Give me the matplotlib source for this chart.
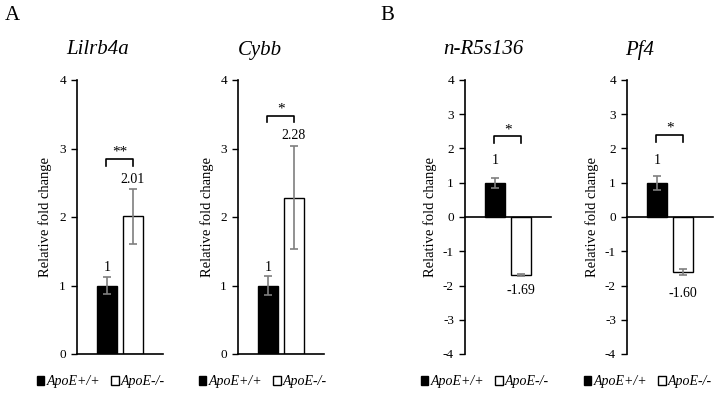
import matplotlib
matplotlib.use("Agg")
import matplotlib.pyplot as plt
import matplotlib.patches as mpatches

plt.rcParams["font.family"] = ["Liberation Serif", "DejaVu Serif"]
plt.rcParams["axes.unicode_minus"] = False

# Data
genes = ["Lilrb4a", "Cybb", "n-R5s136", "Pf4"]
groups = ["ApoE+/+", "ApoE-/-"]
wt_values = [1.0, 1.0, 1.0, 1.0]
wt_errors = [0.13, 0.14, 0.15, 0.20]
ko_values = [2.01, 2.28, -1.69, -1.60]
ko_errors = [0.40, 0.75, 0.02, 0.08]
wt_labels = ["1", "1", "1", "1"]
ko_labels = ["2.01", "2.28", "-1.69", "-1.60"]
significance = ["**", "*", "*", "*"]
y_ranges = [(0, 4), (0, 4), (-4, 4), (-4, 4)]

# Layout (pixels of the 715x393 canvas)
W, H = 715, 393
axes_left = [77, 238, 465, 627]
axes_w = 86
ax_top, ax_bot = 80, 354
title_x = [98, 260, 483, 640]
ylabel_x = [45, 207, 430, 592]
legend_x = [101, 263, 485, 648]
wt_label_y = [1.27, 1.27, 1.66, 1.66]
ko_label_y = [2.55, 3.19, -2.16, -2.22]
bracket_y = [2.85, 3.48, 2.36, 2.40]
bracket_drop = [0.10, 0.10, 0.20, 0.20]

BLACK = "black"
ERR = "#7f7f7f"

fig = plt.figure(figsize=(W / 100, H / 100), dpi=100, facecolor="white")

for i, gene in enumerate(genes):
    ax = fig.add_axes([axes_left[i] / W, 1 - ax_bot / H,
                       axes_w / W, (ax_bot - ax_top) / H])
    bw = 0.23
    off = 0.15
    ax.bar(-off, wt_values[i], bw, color=BLACK, edgecolor=BLACK, linewidth=1)
    ax.bar(off, ko_values[i], bw, color="white", edgecolor=BLACK, linewidth=1)
    ax.errorbar([-off], [wt_values[i]], yerr=[wt_errors[i]], fmt="none",
                ecolor=ERR, elinewidth=1.2, capsize=3, capthick=1.2)
    ax.errorbar([off], [ko_values[i]], yerr=[ko_errors[i]], fmt="none",
                ecolor=ERR, elinewidth=1.2, capsize=3, capthick=1.2)

    ax.set_xlim(-0.5, 0.5)
    ax.set_ylim(*y_ranges[i])
    lo, hi = y_ranges[i]
    ax.set_yticks(range(lo, hi + 1))
    ax.set_xticks([])
    for s in ["top", "right"]:
        ax.spines[s].set_visible(False)
    ax.spines["left"].set_linewidth(1.2)
    ax.spines["bottom"].set_linewidth(1.2)
    if lo < 0:
        ax.spines["bottom"].set_position(("data", 0))
    ax.tick_params(axis="y", direction="out", length=4, width=1,
                   labelsize=9.5, pad=4)

    ax.text(-off, wt_label_y[i], wt_labels[i], ha="center", va="center",
            fontsize=10)
    ax.text(off, ko_label_y[i], ko_labels[i], ha="center", va="center",
            fontsize=10)

    # significance bracket
    x0, x1 = -0.16, 0.155
    yb = bracket_y[i]
    d = bracket_drop[i]
    ax.plot([x0, x0, x1, x1], [yb - d, yb, yb, yb - d], color=BLACK,
            linewidth=1.2, clip_on=False)
    ax.text((x0 + x1) / 2, yb, significance[i], ha="center", va="bottom",
            fontsize=11)

    fig.text(title_x[i] / W, 1 - 50 / H, gene, ha="center", va="center",
             fontsize=15, style="italic")
    fig.text(ylabel_x[i] / W, 1 - (ax_top + ax_bot) / 2 / H,
             "Relative fold change", rotation=90, ha="center", va="center",
             fontsize=10.5)

    handles = [mpatches.Patch(facecolor=BLACK, edgecolor=BLACK, label=groups[0]),
               mpatches.Patch(facecolor="white", edgecolor=BLACK, label=groups[1])]
    fig.legend(handles=handles, loc="center",
               bbox_to_anchor=(legend_x[i] / W, 1 - 382 / H), ncol=2,
               frameon=False, handlelength=0.55, handleheight=0.55,
               handletextpad=0.15, columnspacing=0.8,
               prop={"size": 10, "style": "italic"})

fig.text(12 / W, 1 - 16 / H, "A", ha="center", va="center", fontsize=15)
fig.text(387 / W, 1 - 15 / H, "B", ha="center", va="center", fontsize=15)

fig.savefig("out.png", dpi=100, facecolor="white")
